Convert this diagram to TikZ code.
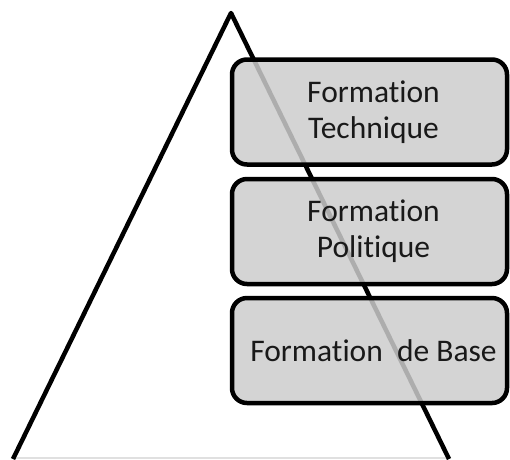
\documentclass[tikz,border=0pt]{standalone}
\usepackage{fontspec}
\setmainfont[Ligatures={NoCommon}]{Carlito}
\begin{document}
\begin{tikzpicture}[x=1pt,y=-1pt,
  leg/.style={line width=4.5pt,black},
  base/.style={line width=1.2pt,black!12},
  boxfill/.style={rectangle,rounded corners=15pt,minimum width=275pt,minimum height=105pt,fill=black!20,fill opacity=0.85,inner sep=0pt},
  boxline/.style={rectangle,rounded corners=15pt,minimum width=275pt,minimum height=105pt,draw=black,line width=4.5pt,inner sep=0pt},
  lbl/.style={align=center,text=black!90,font=\fontsize{31.5}{36}\selectfont,inner sep=0pt}]
\useasboundingbox (0,0) rectangle (510,459);
\clip (0,0) rectangle (510,459);
\coordinate (apex) at (231,13);
\coordinate (bl) at (13,459);
\coordinate (br) at (449,459);
\draw[base] (12,458) -- (450,458);
\draw[leg,line join=round] (bl) -- (apex) -- (br);
\node[boxfill] (f1) at (369.5,112) {};
\node[boxfill] (f2) at (369.5,231.5) {};
\node[boxfill] (f3) at (369.5,350.5) {};
\node[boxline] (b1) at (f1.center) {};
\node[boxline] (b2) at (f2.center) {};
\node[boxline] (b3) at (f3.center) {};
\node[lbl] (t1) at ([xshift=4pt]b1.center) {Formation\\Technique};
\node[lbl] (t2) at ([xshift=4pt]b2.center) {Formation\\Politique};
\node[lbl] (t3) at ([xshift=4pt]b3.center) {Formation\ \ de Base};
\end{tikzpicture}
\end{document}
